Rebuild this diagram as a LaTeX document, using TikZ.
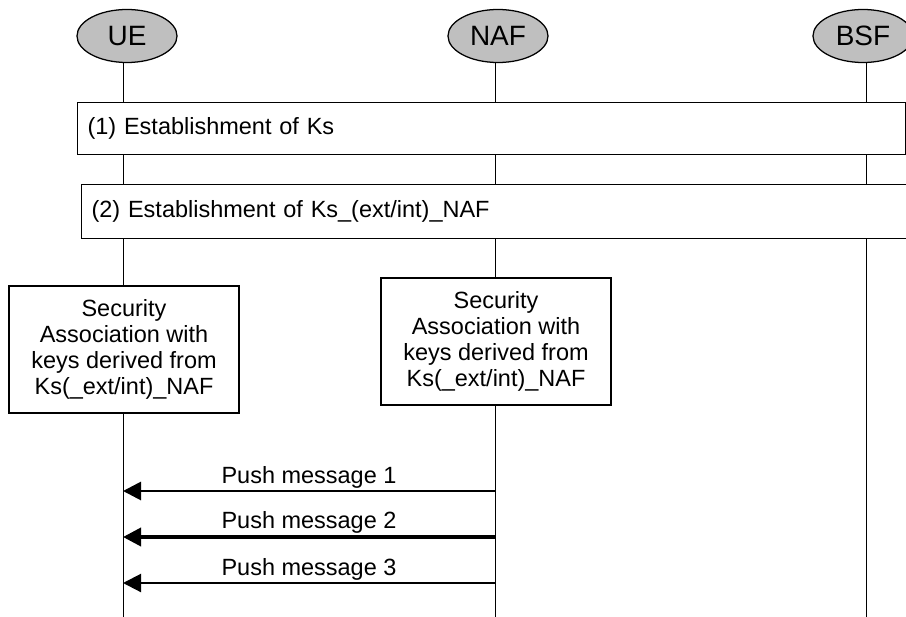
\documentclass[tikz,border=0pt]{standalone}
\usepackage{fontspec}
\setmainfont{Liberation Sans}
\usepackage{tikz}
\usetikzlibrary{arrows.meta,shapes.geometric}

\begin{document}
\begin{tikzpicture}[x=0.025cm,y=-0.025cm,
		entity/.style={ellipse, draw, line width=0.9pt, fill=black!25, minimum width=2.5cm, minimum height=1.325cm, inner sep=0pt, font=\fontsize{19.9}{24}\selectfont},
		life/.style={line width=0.7pt},
		phase/.style={draw, line width=0.8pt, fill=white, anchor=north west, align=left, inner xsep=0.25cm, font=\fontsize{16.7}{19}\selectfont},
		sabox/.style={draw, line width=0.8pt, fill=white, align=center, minimum width=5.75cm, minimum height=3.175cm, inner sep=0pt, font=\fontsize{16.7}{18.4}\selectfont},
		msg/.style={->, >={Triangle[length=0.45cm,width=0.45cm]}},
		msglabel/.style={above=0pt, inner sep=1pt, font=\fontsize{16.7}{19}\selectfont}]
			
			\useasboundingbox (0,0) rectangle (906,617);
			
			\node[entity] (ue) at (127,36) {UE};
			\node[entity] (naf) at (498,36) {NAF};
			\node[entity] (bsf) at (863,36) {BSF};
			
			% lifelines
			\coordinate (ue end) at (123,617);
			\coordinate (naf end) at (495,617);
			\coordinate (bsf end) at (866,617);
			\draw[life] (ue end |- ue.south) -- (ue end);
			\draw[life] (naf end |- naf.south) -- (naf end);
			\draw[life] (bsf end |- bsf.south) -- (bsf end);
			
			\node[phase, text width=20.2cm, minimum height=1.3cm] (ks) at (77,102) {(1) Establishment of Ks};
			\node[phase, text width=20.3cm, minimum height=1.35cm] (ksnaf) at (81,184) {(2) Establishment of Ks\_(ext/int)\_NAF};
			
			\node[sabox] (ue sa) at (124,349.5) {Security\\Association with\\keys derived from\\Ks(\_ext/int)\_NAF};
			\node[sabox] (naf sa) at (496,341.5) {Security\\Association with\\keys derived from\\Ks(\_ext/int)\_NAF};
			
			\draw[msg, line width=2pt] (naf end |- 0,491) -- (ue end |- 0,491) node[midway, msglabel] {Push message 1};
			\draw[msg, line width=2.6pt] (naf end |- 0,537) -- (ue end |- 0,537) node[midway, msglabel] {Push message 2};
			\draw[msg, line width=1.5pt] (naf end |- 0,583) -- (ue end |- 0,583) node[midway, msglabel] {Push message 3};
			
		\end{tikzpicture}
\end{document}
